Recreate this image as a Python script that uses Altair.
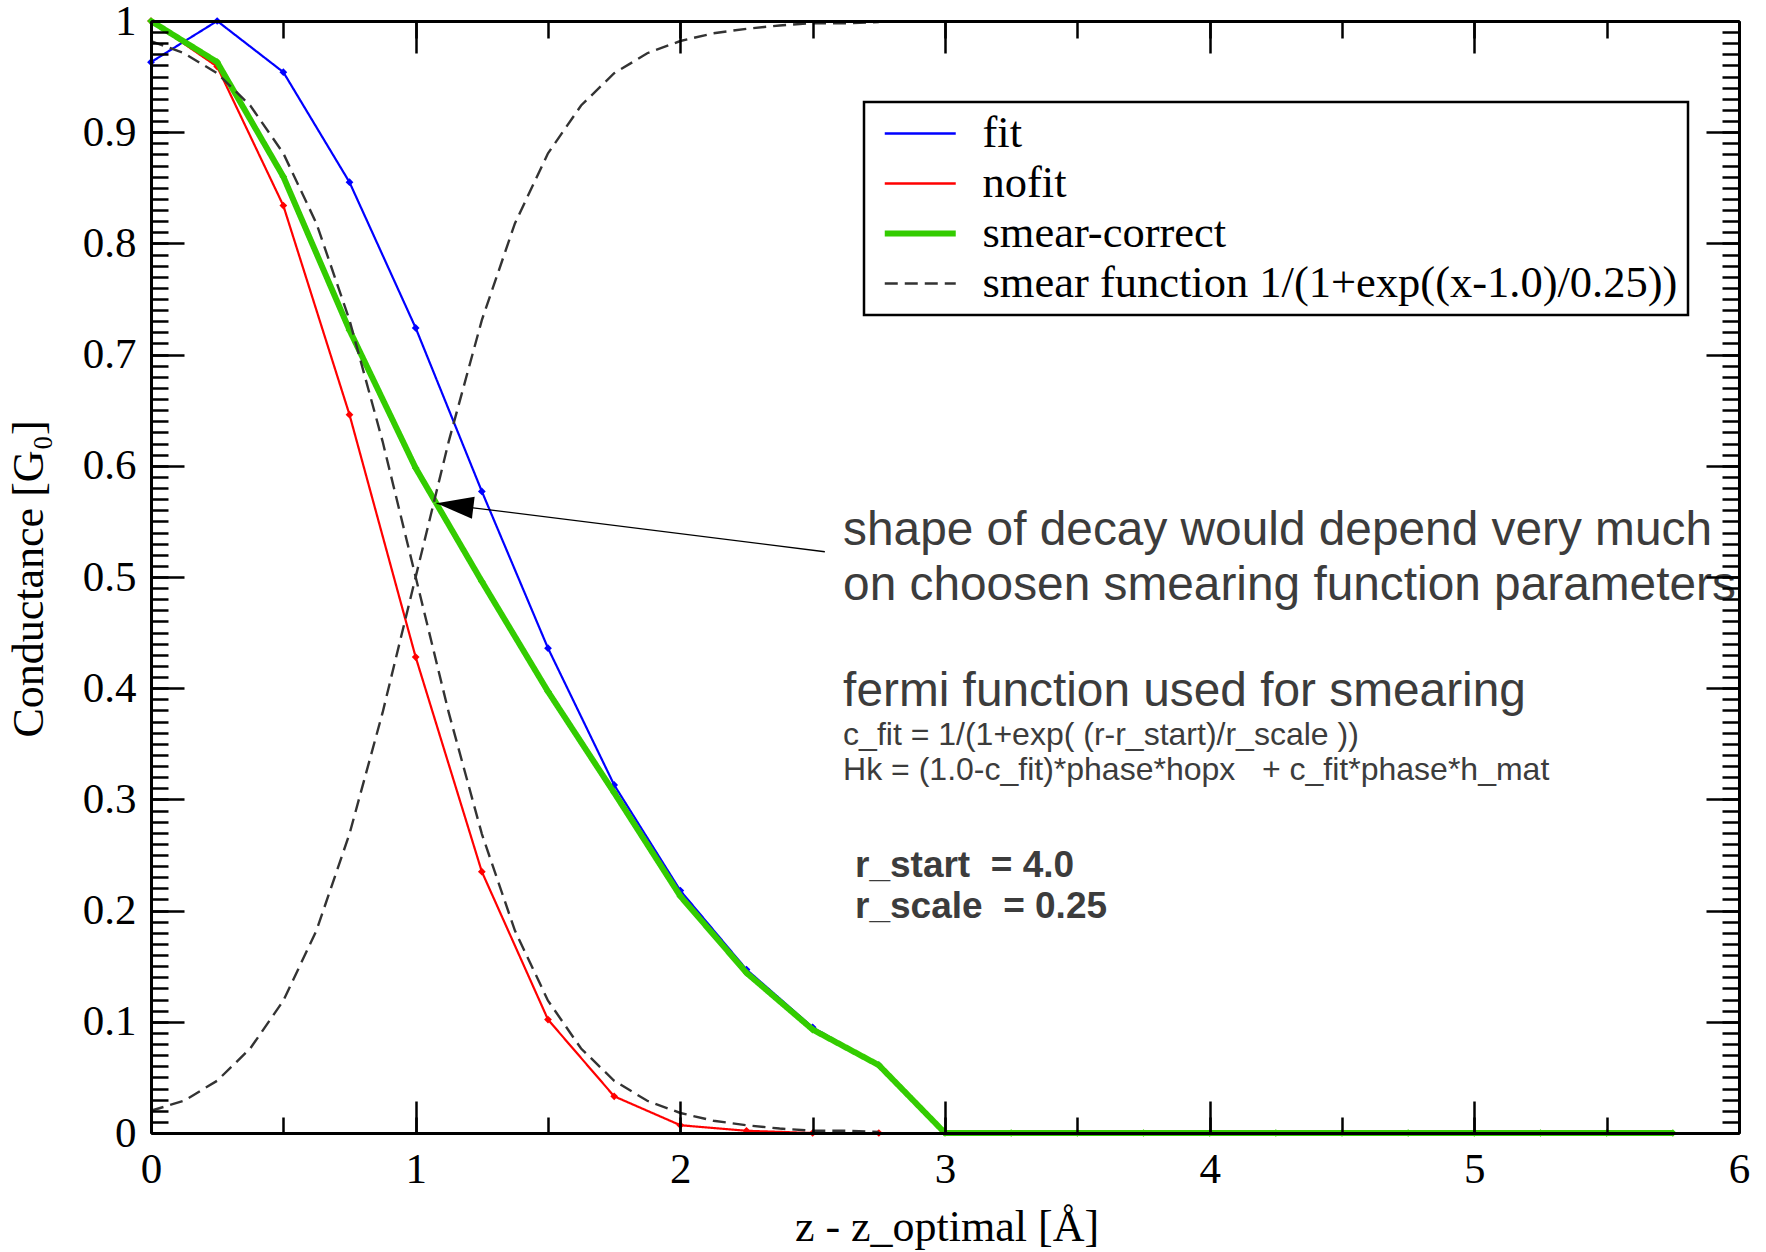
import altair as alt
import pandas as pd

# ---------------- data ----------------
x_steps = [0.0, 0.25, 0.5, 0.75, 1.0, 1.25, 1.5, 1.75, 2.0, 2.25, 2.5, 2.75,
           3.0, 3.25, 3.5, 3.75, 4.0, 4.25, 4.5, 4.75, 5.0, 5.25, 5.5, 5.75]

fit_x = [0.0, 0.25, 0.5, 0.75, 1.0, 1.25, 1.5, 1.75, 2.0, 2.25, 2.5, 2.75]
fit_y = [0.963, 1.000, 0.954, 0.855, 0.724, 0.577, 0.436, 0.313, 0.218, 0.147, 0.095, 0.061]

nofit_x = [0.0, 0.25, 0.5, 0.75, 1.0, 1.25, 1.5, 1.75, 2.0, 2.25, 2.5, 2.75]
nofit_y = [1.000, 0.959, 0.834, 0.646, 0.428, 0.235, 0.102, 0.033, 0.007, 0.002, 0.000, 0.000]

smear_correct_x = x_steps
smear_correct_y = [1.000, 0.963, 0.860, 0.722, 0.598, 0.496, 0.397, 0.306, 0.213, 0.144, 0.093, 0.061,
                   0.000, 0.000, 0.000, 0.000, 0.000, 0.000, 0.000, 0.000, 0.000, 0.000, 0.000, 0.000]

smear_fn_x = [0.0, 0.125, 0.25, 0.375, 0.5, 0.625, 0.75, 0.875, 1.0, 1.125, 1.25, 1.375,
              1.5, 1.625, 1.75, 1.875, 2.0, 2.125, 2.25, 2.375, 2.5, 2.625, 2.75]
smear_fn_down = [0.982, 0.971, 0.953, 0.924, 0.881, 0.818, 0.731, 0.622, 0.500, 0.378, 0.269, 0.182,
                 0.119, 0.076, 0.047, 0.029, 0.018, 0.011, 0.007, 0.004, 0.002, 0.002, 0.001]
smear_fn_up = [0.020, 0.029, 0.047, 0.076, 0.119, 0.182, 0.269, 0.378, 0.500, 0.622, 0.731, 0.818,
               0.881, 0.924, 0.953, 0.971, 0.982, 0.989, 0.993, 0.996, 0.998, 0.998, 0.999]

series_names = ["fit", "nofit", "smear-correct", "smear function 1/(1+exp((x-1.0)/0.25))"]
series_colors = ["#0000ff", "#ff0000", "#33cc00", "#333333"]
series_dash = [[1, 0], [1, 0], [1, 0], [13, 7]]
series_widths = [2.2, 2.2, 6.0, 2.4]

x_major = [0, 1, 2, 3, 4, 5, 6]
x_minor = [0, 0.5, 1, 1.5, 2, 2.5, 3, 3.5, 4, 4.5, 5, 5.5, 6]
y_major = [0, 0.1, 0.2, 0.3, 0.4, 0.5, 0.6, 0.7, 0.8, 0.9, 1.0]
y_minor = [round(i / 100, 2) for i in range(101)]

x_title = "z - z_optimal [Å]"
y_title = "Conductance [G₀]"

# annotation texts (positions in data units)
ann_big_text = ["shape of decay would depend very much",
                "on choosen smearing function parameters",
                "fermi function used for smearing"]
ann_big_x = [2.615, 2.615, 2.615]
ann_big_y = [0.529, 0.479, 0.384]

ann_small_text = ["c_fit = 1/(1+exp( (r-r_start)/r_scale ))",
                  "Hk = (1.0-c_fit)*phase*hopx\u00a0\u00a0\u00a0+ c_fit*phase*h_mat"]
ann_small_x = [2.615, 2.615]
ann_small_y = [0.349, 0.317]

ann_bold_text = ["r_start\u00a0\u00a0= 4.0", "r_scale\u00a0\u00a0= 0.25"]
ann_bold_x = [2.660, 2.660]
ann_bold_y = [0.2305, 0.193]

arrow_x = [1.079, 2.546]
arrow_y = [0.5663, 0.5227]

# ---------------- tables ----------------
rows = []
for name, xs_, ys_ in [(series_names[0], fit_x, fit_y),
                       (series_names[1], nofit_x, nofit_y),
                       (series_names[2], smear_correct_x, smear_correct_y)]:
    for a, b in zip(xs_, ys_):
        rows.append({"x": a, "y": b, "series": name, "curve": name})
for a, b in zip(smear_fn_x, smear_fn_down):
    rows.append({"x": a, "y": b, "series": series_names[3], "curve": "down"})
for a, b in zip(smear_fn_x, smear_fn_up):
    rows.append({"x": a, "y": b, "series": series_names[3], "curve": "up"})
df = pd.DataFrame(rows)

big_df = pd.DataFrame({"x": ann_big_x, "y": ann_big_y, "text": ann_big_text})
small_df = pd.DataFrame({"x": ann_small_x, "y": ann_small_y, "text": ann_small_text})
bold_df = pd.DataFrame({"x": ann_bold_x, "y": ann_bold_y, "text": ann_bold_text})
arrow_df = pd.DataFrame({"x": arrow_x, "y": arrow_y})
arrow_tip_df = arrow_df.iloc[:1]

SERIF = "Liberation Serif"
SANS = "Liberation Sans"
TEXT_GRAY = "#3c3c3c"

xs = alt.Scale(domain=[0, 6], nice=False, zero=False)
ys = alt.Scale(domain=[0, 1], nice=False, zero=False)
color_scale = alt.Scale(domain=series_names, range=series_colors)
dash_scale = alt.Scale(domain=series_names, range=series_dash)

legend = alt.Legend(
    title=None, orient="none", legendX=713, legendY=81, direction="vertical",
    symbolType="stroke", symbolSize=5041,
    symbolStrokeWidth={"expr": "datum.value === 'smear-correct' ? 6 : 2.5"},
    symbolOffset=24, labelOffset=40, labelFont=SERIF, labelFontSize=44.5,
    labelColor="black", labelLimit=1500, clipHeight=43, rowPadding=5,
    padding=10, strokeColor="black", fillColor="white", cornerRadius=0,
)


def px(axis=None):
    return alt.X("x:Q", scale=xs, axis=axis)


def py(axis=None):
    return alt.Y("y:Q", scale=ys, axis=axis)


# ---------------- axis layers (ticks pointing inward) ----------------
tick_common = dict(grid=False, zindex=1, tickColor="black", tickWidth=2.5)

major_bottom = alt.Axis(
    orient="bottom", values=x_major, offset=-32, tickSize=32, domain=False,
    labelFont=SERIF, labelFontSize=43, labelColor="black", labelPadding=15,
    labelFlush=False, labelOverlap=False, labelBaseline="top", labelAlign="center",
    title=x_title, titleFont=SERIF, titleFontSize=44, titleFontWeight="normal",
    titleColor="black", titleX=795.5, titleY=139, titleAlign="center",
    titleBaseline="alphabetic", **tick_common)
major_left = alt.Axis(
    orient="left", values=y_major, offset=-33, tickSize=33, domain=False,
    labelFont=SERIF, labelFontSize=43, labelColor="black", labelPadding=15,
    labelFlush=False, labelOverlap=False, labelAlign="right", labelBaseline="middle",
    format="~g",
    title=y_title, titleFont=SERIF, titleFontSize=44, titleFontWeight="normal",
    titleColor="black", titleAngle=270, titleX=-142, titleY=557.5,
    titleAlign="center", titleBaseline="alphabetic", **tick_common)
minor_bottom = alt.Axis(orient="bottom", values=x_minor, offset=-16, tickSize=16,
                        domain=False, labels=False, title=None, **tick_common)
minor_left = alt.Axis(orient="left", values=y_minor, offset=-17, tickSize=17,
                      domain=False, labels=False, title=None, **tick_common)
major_top = alt.Axis(orient="top", values=x_major, offset=-32, tickSize=32,
                     domain=False, labels=False, title=None, **tick_common)
major_right = alt.Axis(orient="right", values=y_major, offset=-33, tickSize=33,
                       domain=False, labels=False, title=None, **tick_common)
minor_top = alt.Axis(orient="top", values=x_minor, offset=-17, tickSize=17,
                     domain=False, labels=False, title=None, **tick_common)
minor_right = alt.Axis(orient="right", values=y_minor, offset=-17, tickSize=17,
                       domain=False, labels=False, title=None, **tick_common)
frame_common = dict(domain=True, domainColor="black", domainWidth=3, ticks=False,
                    labels=False, title=None, grid=False, zindex=2, offset=0)
frame_bottom = alt.Axis(orient="bottom", **frame_common)
frame_left = alt.Axis(orient="left", **frame_common)
frame_top = alt.Axis(orient="top", **frame_common)
frame_right = alt.Axis(orient="right", **frame_common)

axis_src = df[df.series == series_names[2]]


def axis_layer(xa, ya):
    return alt.Chart(axis_src).mark_point(opacity=0).encode(x=px(xa), y=py(ya))


axis_layers = [
    axis_layer(major_bottom, major_left),
    axis_layer(minor_bottom, minor_left),
    axis_layer(major_top, major_right),
    axis_layer(minor_top, minor_right),
    axis_layer(frame_bottom, frame_left),
    axis_layer(frame_top, frame_right),
]

# ---------------- data layers ----------------
data_layers = []
for name, col, w in zip(series_names, series_colors, series_widths):
    d = df[df.series == name]
    line = alt.Chart(d).mark_line(strokeWidth=w).encode(
        x=px(), y=py(),
        color=alt.Color("series:N", scale=color_scale, legend=legend),
        strokeDash=alt.StrokeDash("series:N", scale=dash_scale, legend=legend),
        detail="curve:N",
    )
    data_layers.append(line)
    if name != series_names[3]:
        pts = alt.Chart(d).mark_point(shape="diamond", filled=True, size=60,
                                      color=col, opacity=1).encode(x=px(), y=py())
        data_layers.append(pts)

arrow_line = alt.Chart(arrow_df).mark_line(color="black", strokeWidth=1.3).encode(x=px(), y=py())
arrow_head = alt.Chart(arrow_tip_df).mark_point(
    shape="M0,0L2,-0.6L2,0.6Z", size=1369, filled=True, color="black",
    opacity=1, angle=7, strokeWidth=0).encode(x=px(), y=py())

big_text = alt.Chart(big_df).mark_text(
    align="left", baseline="alphabetic", font=SANS, fontSize=47.8, color=TEXT_GRAY
).encode(x=px(), y=py(), text="text:N")
small_text = alt.Chart(small_df).mark_text(
    align="left", baseline="alphabetic", font=SANS, fontSize=32, color=TEXT_GRAY
).encode(x=px(), y=py(), text="text:N")
bold_text = alt.Chart(bold_df).mark_text(
    align="left", baseline="alphabetic", font=SANS, fontSize=37, fontWeight="bold",
    color=TEXT_GRAY
).encode(x=px(), y=py(), text="text:N")

chart = alt.layer(
    *axis_layers, *data_layers, arrow_line, arrow_head, big_text, small_text, bold_text
).resolve_axis(
    x="independent", y="independent"
).properties(
    width=1588, height=1112,
    padding={"left": 151, "top": 21, "right": 27, "bottom": 119},
    autosize=alt.AutoSizeParams(type="none"),
).configure(
    background="white"
).configure_view(
    stroke=None
).configure_legend(
    strokeWidth=2.5
)

chart.save("out.html", embed_options={"renderer": "svg", "actions": False})
